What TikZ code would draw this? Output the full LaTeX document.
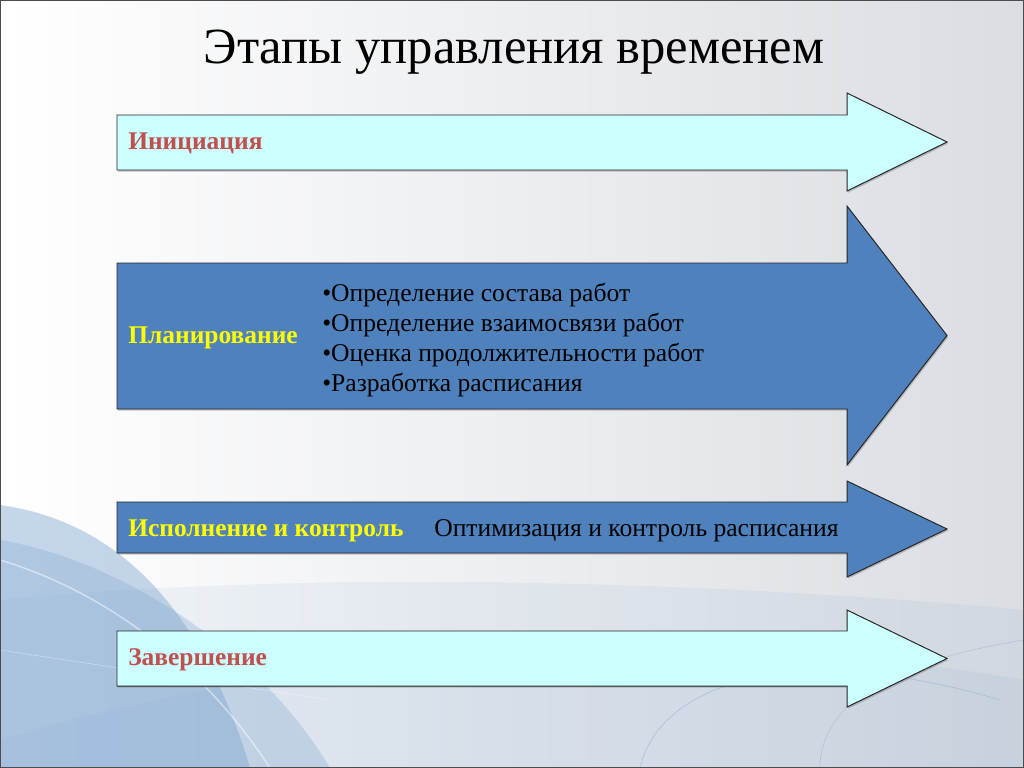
\documentclass[tikz,border=0pt]{standalone}
\usepackage{fontspec}
\setmainfont{Liberation Serif}
\usetikzlibrary{shadows}

\definecolor{stagecyan}{HTML}{CCFFFF}
\definecolor{stageblue}{HTML}{4F81BD}
\definecolor{stagered}{HTML}{C0504D}
\definecolor{stageyellow}{HTML}{FFFF00}
\definecolor{bgblue}{HTML}{7FA6D0}
\definecolor{bggray}{HTML}{DADDE2}

% arrow: [style](body top:body bottom:head top:head bottom), y in px from top
\def\stagearr[#1](#2:#3:#4:#5){\draw[stagearrow,#1] (117,#2) -- (847,#2) -- (847,#4) -- (947,{(#4+#5)/2}) -- (847,#5) -- (847,#3) -- (117,#3) -- cycle;}

\tikzset{
  stagearrow/.style={draw=black!85, line width=0.7pt,
    drop shadow={shadow xshift=0.8pt, shadow yshift=-1.2pt, opacity=0.45}},
  stagename/.style={anchor=west, inner sep=0pt, font=\fontsize{18.1}{21}\selectfont\bfseries},
  stagetext/.style={anchor=west, inner sep=0pt, align=left, font=\fontsize{18.2}{21.3}\selectfont},
}

\begin{document}
\begin{tikzpicture}[x=0.025cm, y=-0.025cm]
			%%%%% BACKGROUND %%%%%
			
			\useasboundingbox (0, 0) rectangle (1024, 768);
			\shade[left color=white, right color=bggray] (0, 0) rectangle (1024, 768);
			\fill[bgblue, opacity=0.10] (0, 600) .. controls (300, 570) and (700, 580) .. (1024, 610) -- (1024, 768) -- (0, 768) -- cycle;
			\fill[bgblue, opacity=0.10] (0, 740) .. controls (400, 620) and (800, 640) .. (1024, 680) -- (1024, 768) -- (0, 768) -- cycle;
			\fill[bgblue, opacity=0.45] (0, 505) .. controls (110, 520) and (200, 600) .. (250, 768) -- (0, 768) -- cycle;
			\fill[bgblue, opacity=0.30] (0, 540) .. controls (120, 560) and (260, 650) .. (330, 768) -- (0, 768) -- cycle;
			\draw[white, opacity=0.5, line width=1pt] (0, 560) .. controls (100, 590) and (200, 660) .. (270, 768);
			\draw[white, opacity=0.4] (0, 650) -- (330, 700);
			\draw[bgblue, opacity=0.5] (640, 768) .. controls (660, 680) and (800, 640) .. (1000, 700);
			\draw[bgblue, opacity=0.4] (820, 768) .. controls (820, 700) and (900, 660) .. (1024, 640);
			\draw[black!70, line width=0.8pt] (0, 0) rectangle (1024, 768);
			
			%%%%% ARROWS %%%%%
			
			\node[inner sep=0pt, font=\fontsize{36}{40}\selectfont] (title) at (514, 52) {Этапы управления временем};
			
			\stagearr[fill=stagecyan](115:170:93:191)
			\node[stagename, text=stagered] (init) at (128, 143) {Инициация};
			
			\stagearr[fill=stageblue](263:409:206:465)
			\node[stagename, text=stageyellow] (plan) at (128, 338) {Планирование};
			\node[stagetext] (plantasks) at (322, 340) {•Определение состава работ\\•Определение взаимосвязи работ\\•Оценка продолжительности работ\\•Разработка расписания};
			
			\stagearr[fill=stageblue](502:553:481:577)
			\node[stagename, text=stageyellow] (exec) at (128, 531) {Исполнение и контроль};
			\node[stagetext] (exectask) at (434, 531) {Оптимизация и контроль расписания};
			
			\stagearr[fill=stagecyan](631:686:610:707)
			\node[stagename, text=stagered] (close) at (128, 660) {Завершение};
			
			%%%%% END %%%%%
\end{tikzpicture}
\end{document}
